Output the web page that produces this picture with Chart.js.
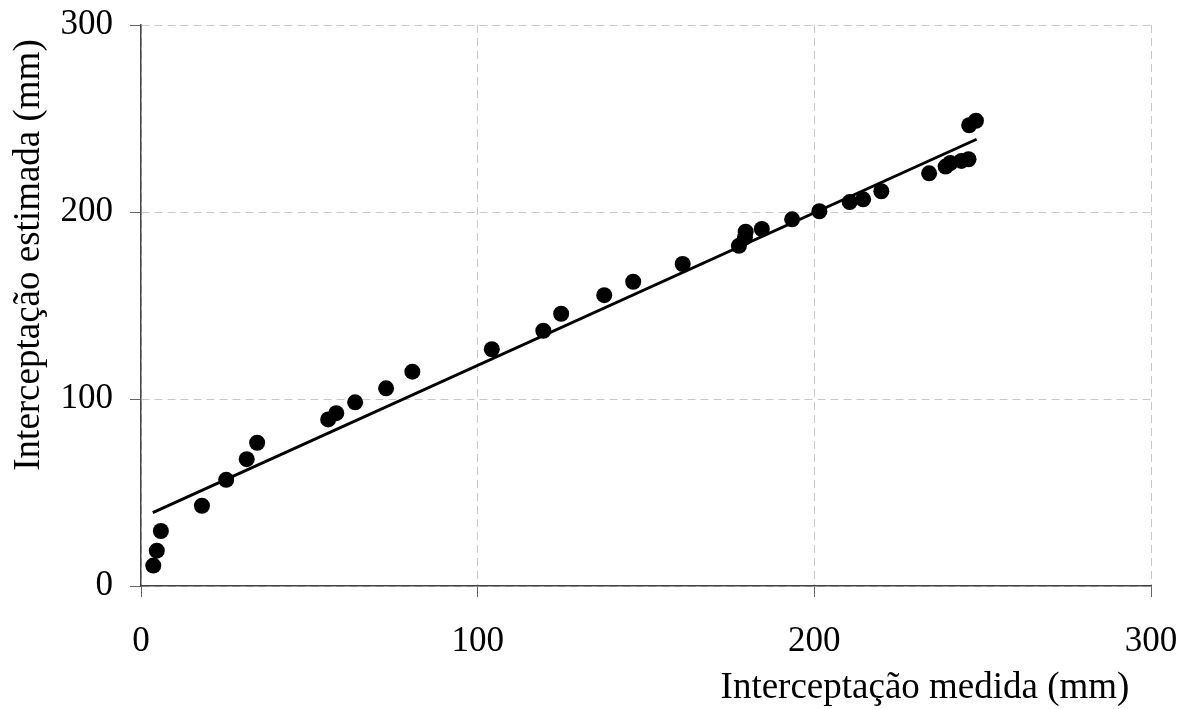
<!DOCTYPE html>
<html lang="pt">
<head>
  <meta charset="utf-8">
  <title>Interceptação medida vs estimada</title>
  <script src="https://cdn.jsdelivr.net/npm/chart.js"></script>
  <style>
    html, body { margin: 0; padding: 0; background: #fff; }
    .wrap { width: 1187px; height: 709px; position: relative; }
  </style>
</head>
<body>
<div class="wrap">
  <canvas id="scatterChart"></canvas>
</div>

<script>
  // measured (x) and estimated (y) interception, mm
  const medida = [3.65, 4.7, 5.9, 18.1, 25.3, 31.4, 34.5, 55.6, 58.0, 63.6, 72.8, 80.6,
    104.2, 119.5, 124.8, 137.6, 146.2, 160.9, 177.6, 179.4, 179.6, 184.4, 193.4, 201.5,
    210.5, 214.5, 219.9, 234.1, 239.0, 240.4, 243.7, 245.8, 246.0, 248.0];
  const estimada = [10.9, 18.9, 29.4, 42.9, 56.8, 67.8, 76.6, 89.1, 92.4, 98.2, 105.7, 114.6,
    126.6, 136.5, 145.6, 155.5, 162.7, 172.2, 181.9, 186.5, 189.5, 190.9, 196.1, 200.4,
    205.3, 206.8, 211.1, 220.7, 224.3, 226.2, 227.3, 228.2, 246.4, 248.8];

  // fitted line endpoints
  const trendX = [3.5, 248.2];
  const trendY = [39.2, 238.9];

  const axisTicks = [0, 100, 200, 300];
  const xTitle = 'Interceptação medida (mm)';
  const yTitle = 'Interceptação estimada (mm)';

  const serif = '"Liberation Serif", "Times New Roman", serif';

  const axisTitles = {
    id: 'axisTitles',
    afterDraw(chart) {
      const c = chart.ctx;
      c.save();
      c.fillStyle = '#000';
      c.font = '37px ' + serif;
      c.textAlign = 'center';
      c.textBaseline = 'middle';
      c.fillText(xTitle, 925, 688);
      c.translate(29, 255);
      c.rotate(-Math.PI / 2);
      c.fillText(yTitle, 0, 0);
      c.restore();
    }
  };

  const ctx = document.getElementById('scatterChart').getContext('2d');
  new Chart(ctx, {
    type: 'scatter',
    data: {
      datasets: [{
        label: 'Observado',
        data: medida.map((v, i) => ({ x: v, y: estimada[i] })),
        backgroundColor: '#000',
        borderWidth: 0,
        pointRadius: 8,
        pointHoverRadius: 8,
        order: 1
      }, {
        type: 'line',
        label: 'Ajuste',
        data: trendX.map((v, i) => ({ x: v, y: trendY[i] })),
        borderColor: '#000',
        borderWidth: 3,
        pointRadius: 0,
        fill: false,
        order: 2
      }]
    },
    options: {
      responsive: true,
      maintainAspectRatio: false,
      animation: false,
      layout: { padding: { top: 25, right: 36, left: 0, bottom: 0 } },
      plugins: {
        legend: { display: false },
        tooltip: { enabled: false }
      },
      scales: {
        x: {
          type: 'linear',
          min: 0,
          max: 300,
          afterBuildTicks: s => { s.ticks = axisTicks.map(v => ({ value: v })); },
          afterFit: s => {
            s.height = 123;
            s.paddingLeft = 0;
            s.paddingRight = 0;
          },
          border: { display: true, color: '#444', width: 1.5, dash: [8, 5] },
          grid: {
            color: '#c8c8c8',
            lineWidth: 1,
            tickColor: '#666',
            tickLength: 11,
            tickBorderDash: []
          },
          ticks: {
            color: '#000',
            font: { family: serif, size: 35 },
            padding: 24,
            maxRotation: 0
          }
        },
        y: {
          type: 'linear',
          min: 0,
          max: 300,
          afterBuildTicks: s => { s.ticks = axisTicks.map(v => ({ value: v })); },
          afterFit: s => {
            s.width = 141;
            s.paddingTop = 0;
            s.paddingBottom = 0;
          },
          border: { display: true, color: '#444', width: 1.5, dash: [8, 5] },
          grid: {
            color: '#c8c8c8',
            lineWidth: 1,
            tickColor: '#666',
            tickLength: 11,
            tickBorderDash: []
          },
          ticks: {
            color: '#000',
            font: { family: serif, size: 35 },
            padding: 17
          }
        }
      }
    },
    plugins: [axisTitles]
  });
</script>
</body>
</html>
